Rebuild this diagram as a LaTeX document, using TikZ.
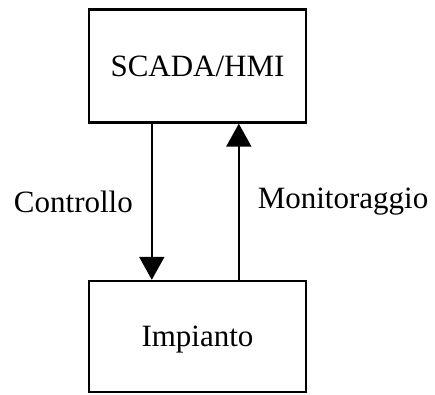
\documentclass[tikz,border=0pt]{standalone}
\usepackage{fontspec}
\setmainfont{Liberation Serif}
\usepackage{tikz}
\usetikzlibrary{arrows.meta,positioning}

\begin{document}
\begin{tikzpicture}[x=1pt, y=1pt,
    block/.style={draw, line width=2.4pt, minimum width=217pt, minimum height=113pt, inner sep=0pt, text depth=0pt, font=\fontsize{31}{36}\selectfont},
    flow/.style={line width=2pt, -{Triangle[width=25pt, length=23pt]}},
    lbl/.style={inner sep=0pt, font=\fontsize{31}{36}\selectfont}]
      \useasboundingbox (0,0) rectangle (435,394);

      % Blocks
      \node[block] (scada) at (197.5,328) {SCADA/HMI};
      \node[block, minimum height=111pt] (plant) at (197.5,57.5) {Impianto};

      % Connections
      \draw[flow] ([xshift=64pt]scada.south west) -- ([xshift=64pt]plant.north west)
        node[lbl, midway, left=18pt] (ctrl) {Controllo};
      \draw[flow] ([xshift=151pt]plant.north west) -- ([xshift=151pt]scada.south west)
        node[lbl, midway, right=18pt] (mon) {Monitoraggio};
    \end{tikzpicture}
\end{document}
